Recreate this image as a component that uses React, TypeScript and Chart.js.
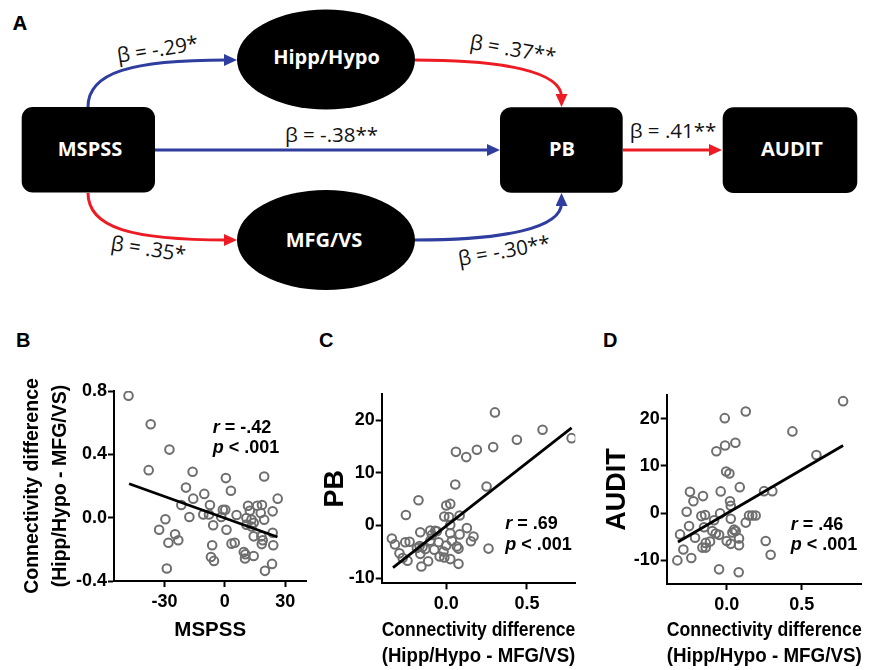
import React, { useEffect, useRef } from 'react';
import { Chart, registerables } from 'chart.js';

Chart.register(...registerables);

// ---------- Panel B: MSPSS vs connectivity difference ----------
const bMspss = [
  -47.8, -36.8, -27.5, -37.8, -16.0, 0.5, 19.5, -19.3, 3.0, -10.2, -15.7, 26.2, -21.6, -7.4, -1.0, 0.2,
  11.5, 16.0, 18.4, 12.4, 17.8, 23.7, -10.7, -7.9, 5.8, -17.6, -29.5, -1.8, 10.7, 13.2, 19.5, 10.7,
  14.3, -5.8, 0.8, -32.6, 13.2, 23.7, -24.7, 14.3, 18.1, -23.1, -28.0, 3.3, 4.9, 18.8, 18.3, -6.3,
  24.0, 9.4, 10.2, 14.3, 10.0, -6.9, -5.4, -28.8, 23.4, 19.9,
];
const bConnectivity = [
  0.77, 0.59, 0.43, 0.3, 0.29, 0.25, 0.26, 0.19, 0.17, 0.15, 0.12, 0.12, 0.08, 0.08, 0.05, 0.05,
  0.075, 0.075, 0.08, 0.044, 0.03, 0.04, 0.02, 0.02, 0.017, 0.004, -0.01, 0.004, -0.002, -0.012, -0.013, -0.044,
  -0.032, -0.048, -0.076, -0.076, -0.056, -0.095, -0.105, -0.118, -0.118, -0.143, -0.158, -0.164, -0.158, -0.143, -0.167, -0.174,
  -0.174, -0.217, -0.231, -0.242, -0.258, -0.248, -0.273, -0.321, -0.292, -0.336,
];
const bFitX = [-47.5, 26.1];
const bFitY = [0.214, -0.122];
const bXTicks = [-30, 0, 30];
const bYTicks = [-0.4, 0, 0.4, 0.8];
const bStatR = '= -.42';
const bStatP = '< .001';

// ---------- Panel C: connectivity difference vs PB ----------
const cConnectivity = [
  0.302, 0.597, 0.777, 0.438, 0.291, 0.19, 0.06, 0.124, 0.056, 0.25, -0.172, 0.025, 0.0, -0.25, -0.012, 0.017,
  0.083, 0.128, 0.025, -0.099, -0.068, -0.058, -0.161, 0.025, 0.083, -0.337, 0.169, 0.153, 0.035, -0.254, -0.227, -0.099,
  -0.047, -0.318, -0.165, -0.147, -0.13, -0.182, -0.074, -0.017, 0.076, 0.066, -0.29, -0.161, -0.041, -0.012, 0.025, -0.27,
  -0.24, -0.112, -0.154, 0.076, 0.262, -0.089, 0.0,
];
const cPB = [
  21.5, 18.2, 16.6, 16.3, 14.9, 14.4, 14.0, 13.0, 7.8, 7.4, 4.8, 4.1, 3.8, 2.0, 1.7, 1.6,
  1.9, -0.5, 0.1, -0.95, -1.0, -1.1, -1.3, -1.5, -1.7, -2.5, -2.1, -3.0, -2.9, -3.2, -3.1, -2.9,
  -3.2, -3.6, -3.9, -4.1, -4.5, -4.3, -4.6, -4.95, -4.4, -4.0, -5.3, -5.4, -5.9, -6.1, -6.4, -6.2,
  -6.7, -6.8, -7.8, -7.3, -4.4, -1.8, -3.8,
];
const cFitX = [-0.33, 0.777];
const cFitY = [-8.0, 18.55];
const cXTicks = [0, 0.5];
const cYTicks = [-10, 0, 10, 20];
const cStatR = '= .69';
const cStatP = '< .001';

// ---------- Panel D: connectivity difference vs AUDIT ----------
const dConnectivity = [
  0.776, 0.127, -0.013, 0.438, 0.058, -0.011, -0.069, 0.598, -0.004, 0.018, 0.087, 0.249, 0.304, -0.245, -0.04, -0.158,
  -0.222, 0.022, 0.027, -0.267, -0.044, -0.169, -0.144, 0.149, 0.171, 0.193, 0.027, -0.084, 0.127, -0.251, -0.151, -0.096,
  0.049, -0.311, -0.073, -0.051, 0.038, 0.06, -0.211, 0.0, 0.082, 0.027, 0.082, 0.26, -0.111, -0.14, -0.162, -0.14,
  -0.289, -0.329, -0.236, 0.293, -0.051, 0.08,
];
const dAudit = [
  23.7, 21.5, 20.1, 17.3, 14.9, 14.3, 13.1, 12.3, 8.8, 8.4, 5.5, 4.65, 4.65, 4.5, 4.6, 3.6,
  2.5, 2.5, 1.55, 0.3, -0.06, -0.63, -0.4, -0.5, -0.5, -0.5, -1.2, -1.5, -2.0, -2.75, -3.0, -3.8,
  -3.5, -4.5, -4.3, -4.6, -4.1, -3.8, -5.2, -5.9, -5.35, -6.5, -6.8, -5.9, -6.0, -6.3, -7.3, -7.3,
  -7.7, -10.0, -9.5, -8.8, -11.9, -12.5,
];
const dFitX = [-0.325, 0.776];
const dFitY = [-6.1, 14.3];
const dXTicks = [0, 0.5];
const dYTicks = [-10, 0, 10, 20];
const dStatR = '= .46';
const dStatP = '< .001';

const AX_FONT = '"Liberation Sans", Arial, Helvetica, sans-serif';
const DIA_FONT = '"Open Sans", "Noto Sans", sans-serif';
const BLUE = '#2f3d9e';
const RED = '#ed1c24';

const statsPlugin = {
  id: 'stats',
  afterDatasetsDraw(chart: any, _args: any, opts: any) {
    if (!opts || opts.x === undefined) return;
    const { ctx, scales } = chart;
    const px = scales.x.getPixelForValue(opts.x);
    const lines: [string, string, number][] = [
      ['r', opts.r, opts.y1],
      ['p', opts.p, opts.y2],
    ];
    ctx.save();
    ctx.fillStyle = '#000';
    ctx.textBaseline = 'middle';
    ctx.textAlign = 'left';
    for (const [sym, rest, yv] of lines) {
      const py = scales.y.getPixelForValue(yv);
      ctx.font = `italic bold 18px ${AX_FONT}`;
      ctx.fillText(sym, px, py);
      const w = ctx.measureText(sym).width;
      ctx.font = `bold 18px ${AX_FONT}`;
      ctx.fillText(' ' + rest, px + w, py);
    }
    ctx.restore();
  },
};

type PanelCfg = {
  xs: number[];
  ys: number[];
  fitX: number[];
  fitY: number[];
  xMin: number;
  xMax: number;
  yMin: number;
  yMax: number;
  xTicks: number[];
  yTicks: number[];
  xFmt: (v: number) => string;
  yFmt: (v: number) => string;
  xTitle: string | string[];
  xTitleSize: number;
  xTitleLH: number;
  xTitlePadBottom: number;
  yTitle: string | string[];
  yTitleSize: number;
  yTitleLH: number;
  yTitlePadTop: number;
  padTop: number;
  padRight: number;
  yAxisW: number;
  xAxisH: number;
  stats: any;
};

function buildConfig(p: PanelCfg): any {
  const tickFont = { family: AX_FONT, weight: 'bold', size: 18 };
  const points = p.xs.map((x, i) => ({ x, y: p.ys[i] }));
  const fit = p.fitX.map((x, i) => ({ x, y: p.fitY[i] }));
  return {
    type: 'scatter',
    data: {
      datasets: [
        {
          data: fit,
          showLine: true,
          borderColor: '#000',
          borderWidth: 2.8,
          pointRadius: 0,
          fill: false,
        },
        {
          data: points,
          pointRadius: 4.3,
          pointBorderWidth: 2,
          pointBorderColor: '#6e6e6e',
          pointBackgroundColor: 'rgba(255,255,255,0)',
          borderColor: '#6e6e6e',
          backgroundColor: 'rgba(255,255,255,0)',
        },
      ],
    },
    options: {
      responsive: false,
      animation: false,
      devicePixelRatio: 1,
      layout: { padding: { top: p.padTop, right: p.padRight, left: 0, bottom: 0 } },
      plugins: {
        legend: { display: false },
        tooltip: { enabled: false },
        stats: p.stats,
      },
      scales: {
        x: {
          type: 'linear',
          position: 'bottom',
          min: p.xMin,
          max: p.xMax,
          afterBuildTicks: (s: any) => {
            s.ticks = p.xTicks.map((v) => ({ value: v }));
          },
          afterFit: (s: any) => {
            s.height = p.xAxisH;
          },
          ticks: { font: tickFont, color: '#000', padding: 4, callback: (v: number) => p.xFmt(v), maxRotation: 0 },
          grid: { drawOnChartArea: false, drawTicks: true, tickLength: 6, tickWidth: 2, tickColor: '#000', color: '#000' },
          border: { display: true, color: '#000', width: 2 },
          title: {
            display: true,
            text: p.xTitle,
            color: '#000',
            font: { family: AX_FONT, weight: 'bold', size: p.xTitleSize, lineHeight: p.xTitleLH },
            padding: { top: 0, bottom: p.xTitlePadBottom },
          },
        },
        y: {
          type: 'linear',
          position: 'left',
          min: p.yMin,
          max: p.yMax,
          afterBuildTicks: (s: any) => {
            s.ticks = p.yTicks.map((v) => ({ value: v }));
          },
          afterFit: (s: any) => {
            s.width = p.yAxisW;
          },
          ticks: { font: tickFont, color: '#000', padding: 1, callback: (v: number) => p.yFmt(v) },
          grid: { drawOnChartArea: false, drawTicks: true, tickLength: 6, tickWidth: 2, tickColor: '#000', color: '#000' },
          border: { display: true, color: '#000', width: 2 },
          title: {
            display: true,
            text: p.yTitle,
            color: '#000',
            font: { family: AX_FONT, weight: 'bold', size: p.yTitleSize, lineHeight: p.yTitleLH },
            padding: { top: p.yTitlePadTop, bottom: 0 },
          },
        },
      },
    },
    plugins: [statsPlugin],
  };
}

function ScatterPanel({ left, top, width, height, cfg }: { left: number; top: number; width: number; height: number; cfg: PanelCfg }) {
  const ref = useRef<HTMLCanvasElement>(null);
  useEffect(() => {
    if (!ref.current) return;
    const chart = new Chart(ref.current, buildConfig(cfg));
    return () => chart.destroy();
  }, []);
  return (
    <canvas
      ref={ref}
      width={width}
      height={height}
      style={{ position: 'absolute', left, top, width, height }}
    />
  );
}

const fmt1 = (v: number) => v.toFixed(1);
const fmt0 = (v: number) => String(Math.round(v));

const panelB: PanelCfg = {
  xs: bMspss,
  ys: bConnectivity,
  fitX: bFitX,
  fitY: bFitY,
  xMin: -55,
  xMax: 40.5,
  yMin: -0.4,
  yMax: 0.8,
  xTicks: bXTicks,
  yTicks: bYTicks,
  xFmt: fmt0,
  yFmt: fmt1,
  xTitle: 'MSPSS',
  xTitleSize: 20.5,
  xTitleLH: 1.2,
  xTitlePadBottom: 27.5,
  yTitle: ['Connectivity difference', '(Hipp/Hypo - MFG/VS)'],
  yTitleSize: 19.5,
  yTitleLH: 1.45,
  yTitlePadTop: 18,
  padTop: 31,
  padRight: 13.5,
  yAxisW: 114,
  xAxisH: 89,
  stats: { x: -6, y1: 0.565, y2: 0.44, r: bStatR, p: bStatP },
};

const panelC: PanelCfg = {
  xs: cConnectivity,
  ys: cPB,
  fitX: cFitX,
  fitY: cFitY,
  xMin: -0.4,
  xMax: 0.8,
  yMin: -11,
  yMax: 25,
  xTicks: cXTicks,
  yTicks: cYTicks,
  xFmt: fmt1,
  yFmt: fmt0,
  xTitle: ['Connectivity difference', '(Hipp/Hypo - MFG/VS)'],
  xTitleSize: 20.5,
  xTitleLH: 1.3,
  xTitlePadBottom: 0,
  yTitle: 'PB',
  yTitleSize: 27,
  yTitleLH: 1.0,
  yTitlePadTop: 2,
  padTop: 34,
  padRight: 24.7,
  yAxisW: 61.7,
  xAxisH: 86.7,
  stats: { x: 0.366, y1: 0.24, y2: -3.76, r: cStatR, p: cStatP },
};

const panelD: PanelCfg = {
  xs: dConnectivity,
  ys: dAudit,
  fitX: dFitX,
  fitY: dFitY,
  xMin: -0.4,
  xMax: 0.9,
  yMin: -15,
  yMax: 25,
  xTicks: dXTicks,
  yTicks: dYTicks,
  xFmt: fmt1,
  yFmt: fmt0,
  xTitle: ['Connectivity difference', '(Hipp/Hypo - MFG/VS)'],
  xTitleSize: 20.5,
  xTitleLH: 1.3,
  xTitlePadBottom: 0,
  yTitle: 'AUDIT',
  yTitleSize: 27,
  yTitleLH: 1.0,
  yTitlePadTop: 4,
  padTop: 35,
  padRight: 14.3,
  yAxisW: 66.7,
  xAxisH: 86,
  stats: { x: 0.427, y1: -2.5, y2: -6.75, r: dStatR, p: dStatP },
};

const betaLabels = [
  { text: 'β = -.29*', x: 157.5, y: 48.5, rot: -9 },
  { text: 'β = -.38**', x: 331.5, y: 133.5, rot: 0 },
  { text: 'β = .35*', x: 148.5, y: 248, rot: 9 },
  { text: 'β = .37**', x: 513, y: 48.3, rot: 10 },
  { text: 'β = -.30**', x: 504, y: 250, rot: -10 },
  { text: 'β = .41**', x: 673, y: 130, rot: 0 },
];

function Diagram() {
  const boxText = { fill: '#fff', fontFamily: DIA_FONT, fontWeight: 700, fontSize: 20, textAnchor: 'middle' as const };
  return (
    <svg width={876} height={670} style={{ position: 'absolute', left: 0, top: 0 }}>
      <defs>
        <marker id="hb" markerUnits="userSpaceOnUse" markerWidth="13" markerHeight="12" refX="3" refY="6" orient="auto">
          <path d="M0,0 L13,6 L0,12 z" fill={BLUE} />
        </marker>
        <marker id="hr" markerUnits="userSpaceOnUse" markerWidth="13" markerHeight="12" refX="3" refY="6" orient="auto">
          <path d="M0,0 L13,6 L0,12 z" fill={RED} />
        </marker>
      </defs>
      <text x={13} y={30} fontFamily={DIA_FONT} fontWeight={700} fontSize={20} fill="#000">A</text>
      <text x={16} y={347} fontFamily={AX_FONT} fontWeight={700} fontSize={20} fill="#000">B</text>
      <text x={319} y={347} fontFamily={AX_FONT} fontWeight={700} fontSize={20} fill="#000">C</text>
      <text x={603} y={347} fontFamily={AX_FONT} fontWeight={700} fontSize={20} fill="#000">D</text>

      <g fill="none" strokeWidth={3}>
        <path d="M 88 107 C 88 72, 132 60, 227 60" stroke={BLUE} markerEnd="url(#hb)" />
        <path d="M 88 193 C 88 228, 132 240, 227 240" stroke={RED} markerEnd="url(#hr)" />
        <path d="M 155 150 L 490 150" stroke={BLUE} markerEnd="url(#hb)" />
        <path d="M 415 60 C 505 60, 561.5 72, 561.5 97" stroke={RED} markerEnd="url(#hr)" />
        <path d="M 415 240 C 505 240, 561.5 228, 561.5 203" stroke={BLUE} markerEnd="url(#hb)" />
        <path d="M 623 150 L 712 150" stroke={RED} markerEnd="url(#hr)" />
      </g>

      <rect x={21.7} y={107} width={133.3} height={85.5} rx={11} fill="#000" />
      <ellipse cx={326} cy={59.5} rx={89} ry={50} fill="#000" />
      <ellipse cx={326} cy={240} rx={89} ry={50} fill="#000" />
      <rect x={500} y={107.3} width={122.7} height={85.4} rx={11} fill="#000" />
      <rect x={722.7} y={107.3} width={134.6} height={85.7} rx={11} fill="#000" />

      <text x={90} y={155.5} {...boxText}>MSPSS</text>
      <text x={326.5} y={64} {...boxText}>Hipp/Hypo</text>
      <text x={324} y={247} {...boxText}>MFG/VS</text>
      <text x={562} y={155.5} {...boxText}>PB</text>
      <text x={792} y={155.5} {...boxText}>AUDIT</text>

      {betaLabels.map((b, i) => (
        <text
          key={i}
          x={b.x}
          y={b.y}
          transform={`rotate(${b.rot} ${b.x} ${b.y})`}
          fontFamily={DIA_FONT}
          fontSize={20.5}
          fill="#111"
          textAnchor="middle"
          dominantBaseline="central"
        >
          {b.text}
        </text>
      ))}
    </svg>
  );
}

export default function App() {
  return (
    <div style={{ position: 'absolute', left: 0, top: 0, width: 876, height: 670, background: '#fff', overflow: 'hidden' }}>
      <Diagram />
      <ScatterPanel left={0} top={360} width={320} height={310} cfg={panelB} />
      <ScatterPanel left={320} top={360} width={280} height={310} cfg={panelC} />
      <ScatterPanel left={600} top={360} width={276} height={310} cfg={panelD} />
    </div>
  );
}
